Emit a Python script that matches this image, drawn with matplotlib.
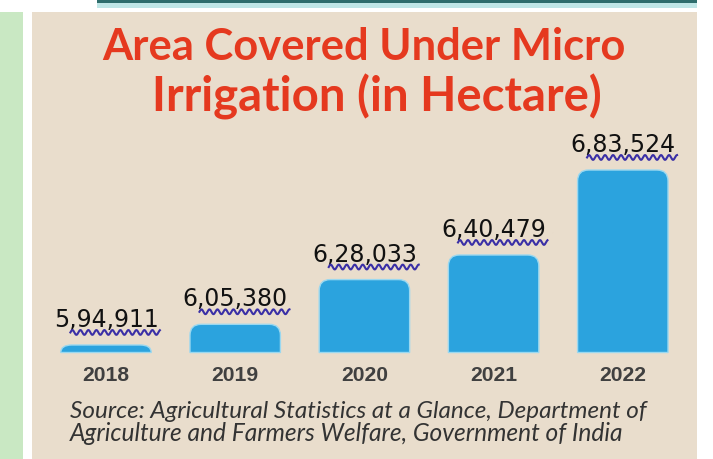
import matplotlib
matplotlib.use('Agg')
import matplotlib.pyplot as plt
import numpy as np
from matplotlib.patches import Rectangle, PathPatch
from matplotlib.path import Path
from matplotlib.lines import Line2D

# datos
years = ['2018', '2019', '2020', '2021', '2022']
area = [594911, 605380, 628033, 640479, 683524]
area_labels = ['5,94,911', '6,05,380', '6,28,033', '6,40,479', '6,83,524']
title_lines = ['Area Covered Under Micro', 'Irrigation (in Hectare)']
source_lines = ['Source: Agricultural Statistics at a Glance, Department of',
                'Agriculture and Farmers Welfare, Government of India']

W, H = 713, 459
fig = plt.figure(figsize=(W / 100, H / 100), dpi=100)
fig.patch.set_facecolor('white')


def fx(x):
    return x / W


def fy(y):
    return 1 - y / H


def box(x0, y0, x1, y1, color):
    fig.add_artist(Rectangle((fx(x0), fy(y1)), fx(x1) - fx(x0), fy(y0) - fy(y1),
                             transform=fig.transFigure, color=color, lw=0, zorder=0))


# fondo: franja verde, panel beige, barra superior
box(0, 12, 23, H, '#c9e8c3')
box(32, 12, 697, H, '#e9ddcc')
box(97, 0, 697, 3, '#2e6d6c')
box(97, 3, 697, 8, '#bfe6e6')

# ejes
ax = fig.add_axes([fx(41.4), fy(352.5), fx(646), fy(130) - fy(352.5)])
ax.set_facecolor('none')
ax.set_xlim(-0.5, 4.5)
ax.set_ylim(591113, 703787)
for s in ax.spines.values():
    s.set_visible(False)
ax.set_yticks([])
x = np.arange(len(years))
ax.set_xticks(x, years)
ax.tick_params(axis='x', length=0, pad=9.5, labelsize=15.2, labelcolor='#404040')
for t in ax.get_xticklabels():
    t.set_family('Liberation Sans')
    t.set_weight('bold')

bars = ax.bar(x, area, width=0.7, color='#2ba3de')

# barras con esquinas superiores redondeadas
ybot = ax.get_ylim()[0]
upx = (ax.get_ylim()[1] - ybot) / (352.5 - 130)   # unidades y por pixel
rx = 11 / 129.2
for b in bars:
    b.set_visible(False)
    x0 = b.get_x()
    x1 = x0 + b.get_width()
    top = b.get_height()
    ry = min(11 * upx, top - ybot)
    verts = [(x0, ybot), (x0, top - ry), (x0, top), (x0 + rx, top),
             (x1 - rx, top), (x1, top), (x1, top - ry), (x1, ybot), (x0, ybot)]
    codes = [Path.MOVETO, Path.LINETO, Path.CURVE3, Path.CURVE3,
             Path.LINETO, Path.CURVE3, Path.CURVE3, Path.LINETO, Path.CLOSEPOLY]
    ax.add_patch(PathPatch(Path(verts, codes), facecolor='#2ba3de',
                           edgecolor='#9ad8f0', lw=1.0, clip_on=False))

# etiquetas de valores
labs = []
for i, v in enumerate(area):
    t = ax.annotate(area_labels[i], (x[i], v), xytext=(0, 13), textcoords='offset points',
                    ha='center', va='baseline', fontsize=17, color='#111111',
                    family='DejaVu Sans')
    labs.append(t)

# titulo y fuente
t1 = fig.text(fx(102), fy(60), title_lines[0], family='Lato', weight='bold',
              fontsize=30, color='#e5391f', ha='left', va='baseline')
t2 = fig.text(fx(152), fy(112), title_lines[1], family='Lato', weight='bold',
              fontsize=30, color='#e5391f', ha='left', va='baseline')
s1 = fig.text(fx(70), fy(418), source_lines[0], family='Lato', style='italic',
              fontsize=14, color='#333333', ha='left', va='baseline')
s2 = fig.text(fx(70), fy(441), source_lines[1], family='Lato', style='italic',
              fontsize=14, color='#333333', ha='left', va='baseline')

# ajustar tamaño al ancho del original
fig.canvas.draw()
r = fig.canvas.get_renderer()
for t, wpx in [(t1, 523), (t2, 450), (s1, 580), (s2, 557)]:
    w = t.get_window_extent(r).width
    t.set_fontsize(t.get_fontsize() * wpx / w)
fig.canvas.draw()

# subrayado ondulado bajo los numeros
inv = fig.transFigure.inverted()
for t in labs:
    e = t.get_window_extent(r)
    xs = np.arange(e.x0 + 0.16 * e.width, e.x1 + 2, 0.5)
    yb = ax.transData.transform((0, t.xy[1]))[1] + 13 * 100 / 72
    ys = yb - 5.5 + 2.4 * np.sin((xs - xs[0]) * 2 * np.pi / 8)
    pts = inv.transform(np.column_stack([xs, ys]))
    fig.add_artist(Line2D(pts[:, 0], pts[:, 1], transform=fig.transFigure,
                          color='#3a2fa6', lw=1.5))

fig.savefig('out.png', dpi=100)
